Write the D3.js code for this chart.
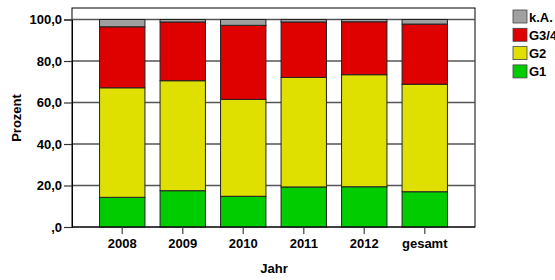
<!DOCTYPE html>
<html><head><meta charset="utf-8">
<script src="https://cdn.jsdelivr.net/npm/d3@7"></script>
<style>body{margin:0;background:#fff}svg{display:block}text{font-family:"Liberation Sans",Arial,sans-serif}</style>
</head><body><svg id="c" width="555" height="280"></svg>
<script>
const categories = ["2008","2009","2010","2011","2012","gesamt"];
const seriesNames = ["G1","G2","G3/4","k.A."];
const G1   = [14.3, 17.5, 14.8, 19.3, 19.4, 17.0];
const G2   = [52.8, 53.0, 46.7, 52.8, 54.0, 51.8];
const G34  = [29.4, 28.3, 35.7, 26.7, 25.5, 29.0];
const kA   = [3.5, 1.2, 2.8, 1.2, 1.1, 2.2];
const yTicks = [0,20,40,60,80,100];
const yTickLabels = [",0","20,0","40,0","60,0","80,0","100,0"];
const colors = {"G1":"#00cc00","G2":"#dfdf00","G3/4":"#df0000","k.A.":"#a0a0a0"};

const rows = categories.map((c,i)=>({cat:c,"G1":G1[i],"G2":G2[i],"G3/4":G34[i],"k.A.":kA[i]}));
const stack = d3.stack().keys(seriesNames)(rows);

const svg = d3.select("#c");
const L=72,R=475,T=8,B=227;
const x = d3.scaleBand().domain(categories).range([92,455]).paddingInner(0.25).paddingOuter(0.125);
const y = d3.scaleLinear().domain([0,100]).range([B,19.5]);

// frame
svg.append("rect").attr("x",L).attr("y",T).attr("width",R-L).attr("height",B-T)
  .attr("fill","none").attr("stroke","#000").attr("stroke-width",1);

// gridlines
svg.append("g").selectAll("line").data(yTicks.filter(d=>d>0)).join("line")
  .attr("x1",L).attr("x2",R).attr("y1",d=>y(d)).attr("y2",d=>y(d))
  .attr("stroke","#555").attr("stroke-width",1.3);

// bars
svg.append("g").selectAll("g").data(stack).join("g")
  .attr("fill",d=>colors[d.key])
  .selectAll("rect").data(d=>d).join("rect")
  .attr("x",d=>x(d.data.cat)).attr("width",x.bandwidth())
  .attr("y",d=>y(d[1])).attr("height",d=>y(d[0])-y(d[1]))
  .attr("stroke","#222").attr("stroke-width",1);

// y axis
const yAxis = d3.axisLeft(y).tickValues(yTicks).tickSize(8).tickPadding(2)
  .tickFormat((d,i)=>yTickLabels[i]);
const ga = svg.append("g").attr("transform",`translate(${L},0)`).call(yAxis);
ga.select(".domain").attr("stroke","#000");
ga.selectAll(".tick line").attr("stroke","#333").attr("stroke-width",1.2);
ga.selectAll("text").attr("font-size","13px").attr("font-weight","bold").attr("fill","#000")
  .attr("font-family","'Liberation Sans',Arial,sans-serif");

// x axis
const xAxis = d3.axisBottom(x).tickSize(7).tickPadding(5);
const gx = svg.append("g").attr("transform",`translate(0,${B})`).call(xAxis);
gx.select(".domain").remove();
gx.selectAll(".tick line").attr("stroke","#666").attr("stroke-width",1.5);
gx.selectAll("text").attr("font-size","13px").attr("font-weight","bold").attr("fill","#000")
  .attr("font-family","'Liberation Sans',Arial,sans-serif");
svg.append("line").attr("x1",L).attr("x2",R).attr("y1",B).attr("y2",B).attr("stroke","#000").attr("stroke-width",1.2);

// axis titles
svg.append("text").attr("transform","translate(21,118) rotate(-90)").attr("text-anchor","middle")
  .attr("font-size","13px").attr("font-weight","bold").text("Prozent");
svg.append("text").attr("x",274).attr("y",273).attr("text-anchor","middle")
  .attr("font-size","13px").attr("font-weight","bold").text("Jahr");

// legend
const legendOrder = ["k.A.","G3/4","G2","G1"];
const lg = svg.append("g").selectAll("g").data(legendOrder).join("g")
  .attr("transform",(d,i)=>`translate(513,${10+i*18.3})`);
lg.append("rect").attr("width",14).attr("height",13).attr("fill",d=>colors[d])
  .attr("stroke","#444").attr("stroke-width",0.8);
lg.append("text").attr("x",16).attr("y",11.5).attr("font-size","13px").attr("font-weight","bold").text(d=>d);
</script></body></html>
